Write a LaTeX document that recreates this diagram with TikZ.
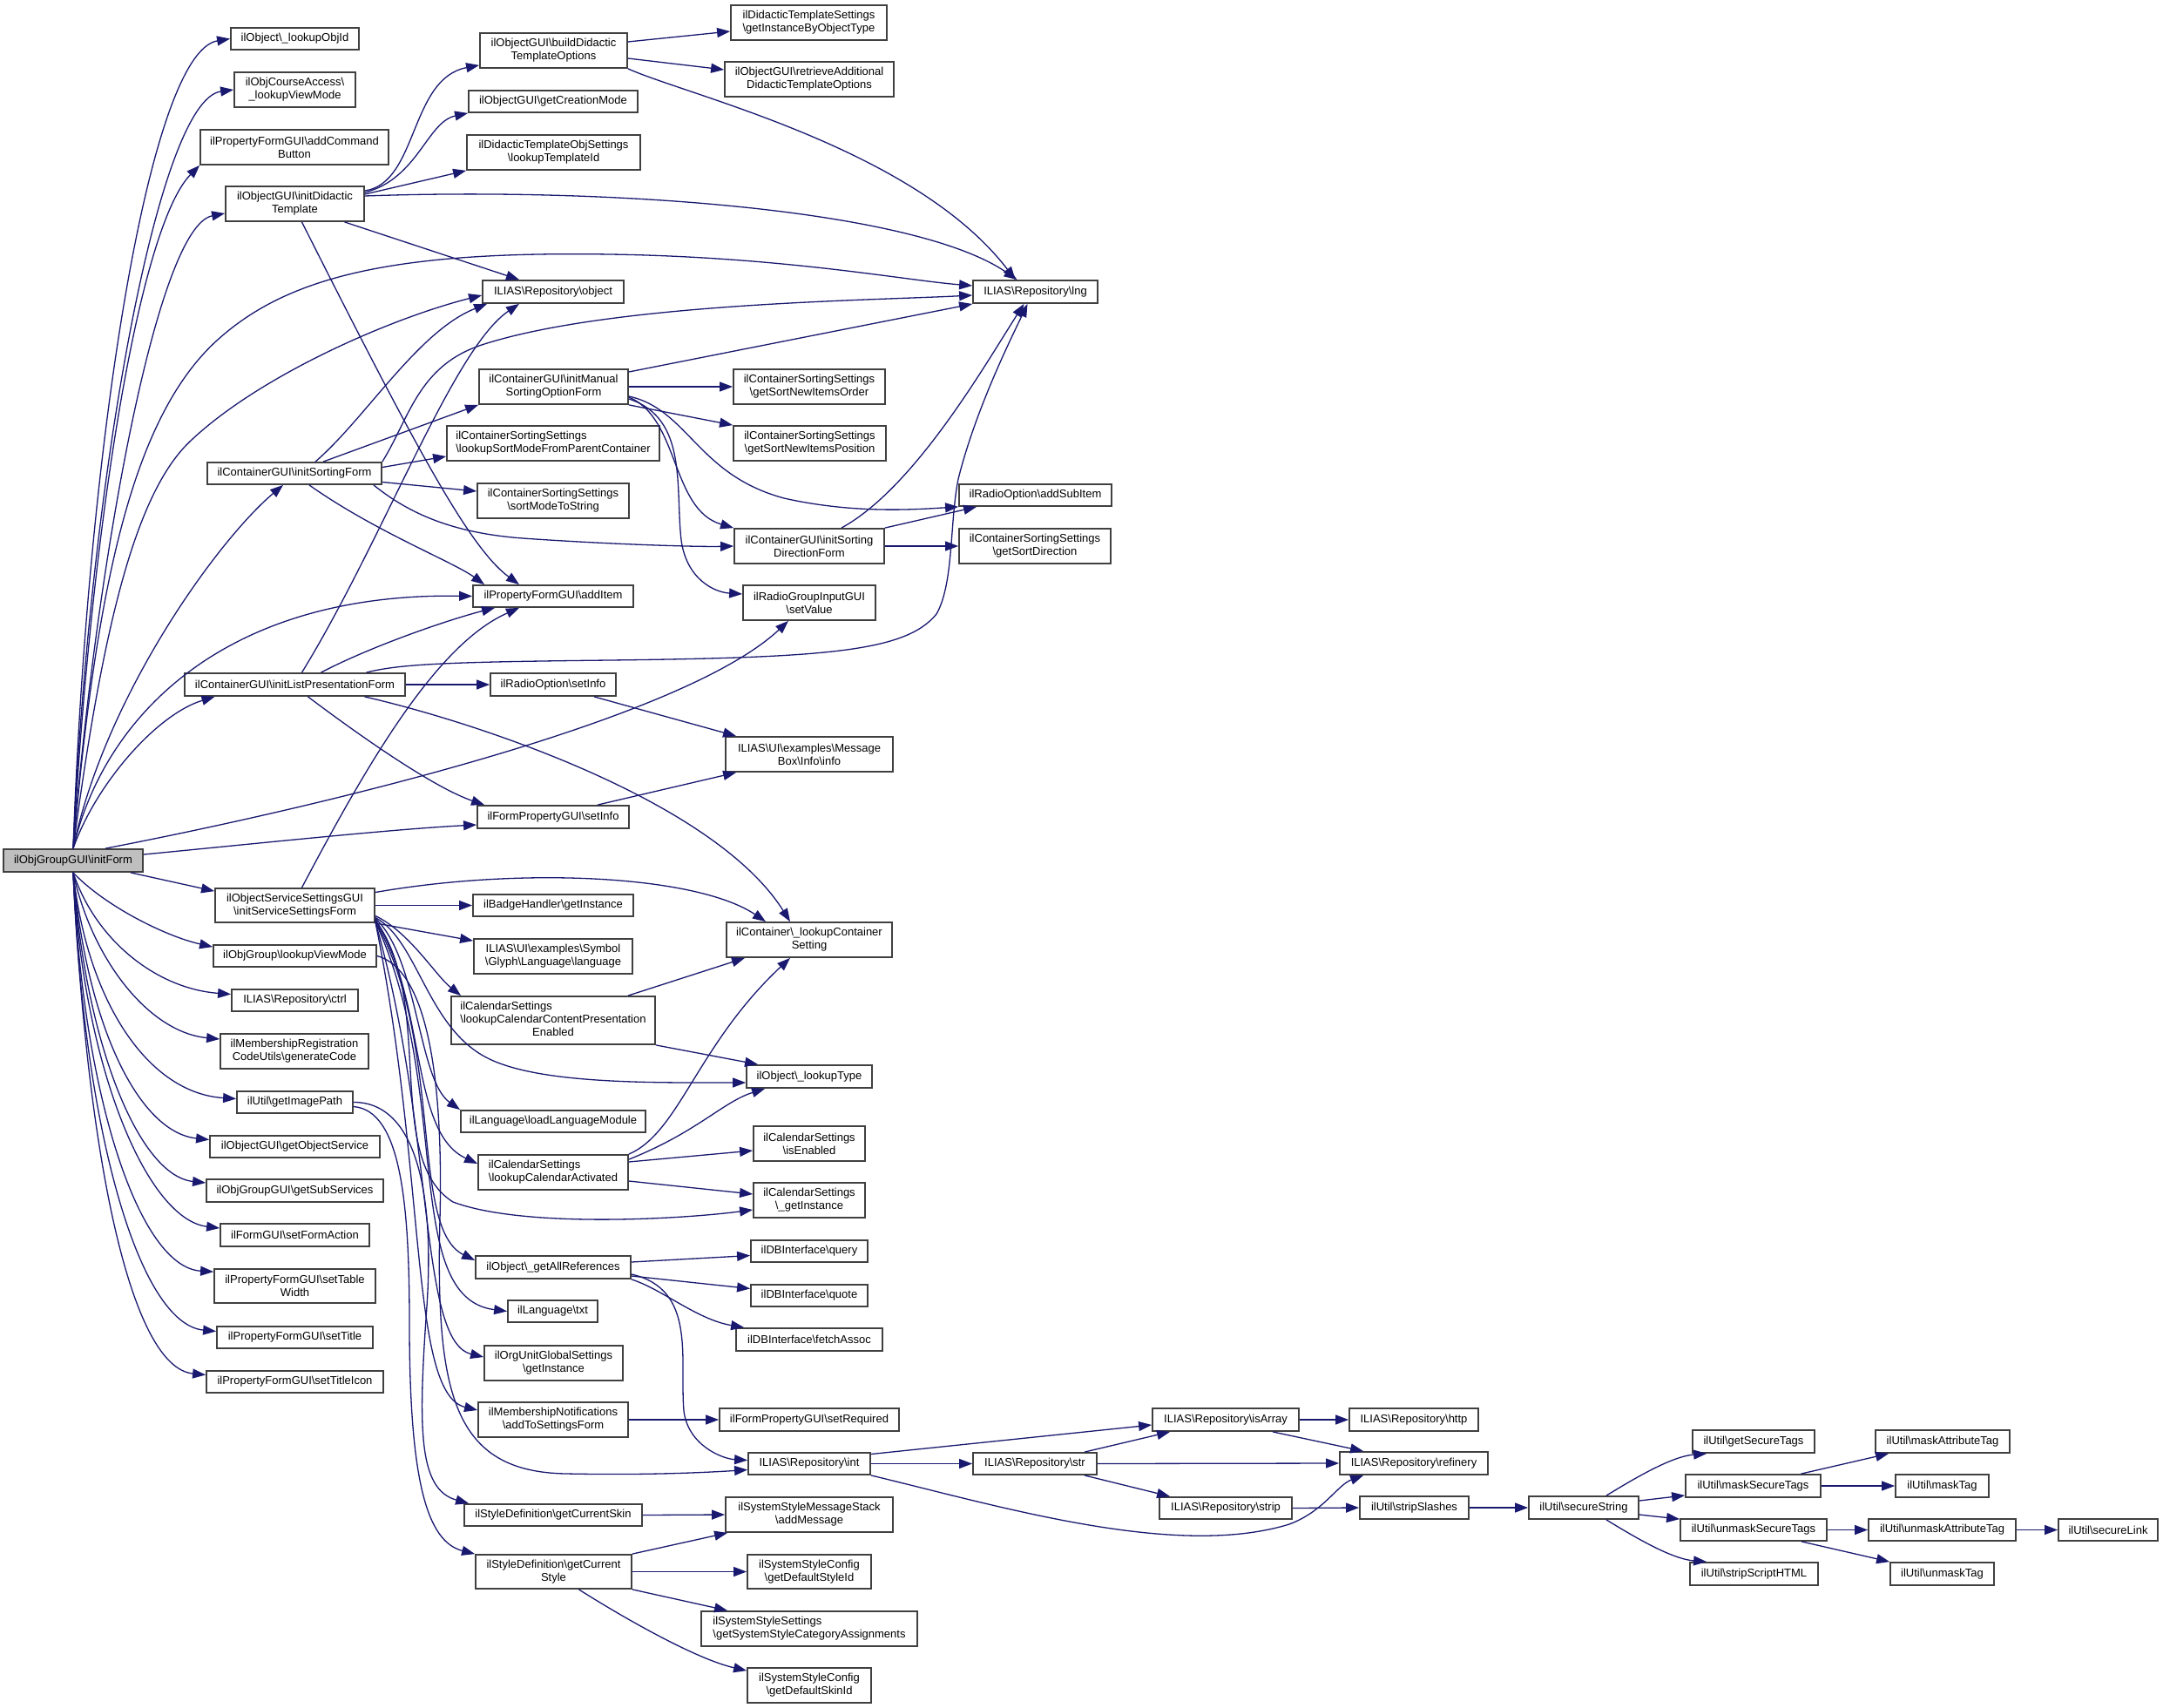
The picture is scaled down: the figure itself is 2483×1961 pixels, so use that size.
\documentclass[tikz,border=0pt]{standalone}
\usepackage{fontspec}
\setmainfont{Liberation Sans}
\usetikzlibrary{arrows.meta}
\definecolor{edgecol}{RGB}{25,25,112}
\definecolor{bordercol}{RGB}{64,64,64}
\newcommand\BS{\textbackslash}
\newcommand\bx[7][]{\node[box,minimum width={#5-#3},minimum height={#6-#4},#1] (#2) at ({(#3+#5)/2},{(#4+#6)/2}) {#7};}
\begin{document}
\begin{tikzpicture}[x=1pt,y=-1pt,
  box/.style={draw=bordercol,line width=1.8pt,fill=white,inner sep=0pt,align=center,font=\fontsize{13}{15}\selectfont},
  e/.style={draw=edgecol,line width=1.3pt,-{Triangle[length=15pt,width=11pt]}}]
\fill[white] (0,0) rectangle (2483,1961);
\useasboundingbox (0,0) rectangle (2483,1961);
% ---------- nodes ----------
\bx[fill=black!25]{initForm}{4}{975}{164}{1001}{ilObjGroupGUI\BS initForm}
\bx{lookupObjId}{265}{32}{412}{57}{ilObject\BS\_lookupObjId}
\bx{crsLVM}{269}{83}{408}{123}{ilObjCourseAccess\BS\\\_lookupViewMode}
\bx{addCB}{230}{149}{446}{189}{ilPropertyFormGUI\BS addCommand\\Button}
\bx{initDid}{259}{214}{418}{254}{ilObjectGUI\BS initDidactic\\Template}
\bx{initSort}{238}{531}{438}{556}{ilContainerGUI\BS initSortingForm}
\bx{initList}{212}{773}{465}{799}{ilContainerGUI\BS initListPresentationForm}
\bx{iSS}{247}{1020}{430}{1059}{ilObjectServiceSettingsGUI\\\BS initServiceSettingsForm}
\bx{grpLVM}{245}{1085}{432}{1110}{ilObjGroup\BS lookupViewMode}
\bx{ctrl}{266}{1136}{411}{1161}{ILIAS\BS Repository\BS ctrl}
\bx{genCode}{253}{1187}{423}{1227}{ilMembershipRegistration\\CodeUtils\BS generateCode}
\bx{gIP}{272}{1253}{405}{1278}{ilUtil\BS getImagePath}
\bx{gOS}{241}{1304}{436}{1329}{ilObjectGUI\BS getObjectService}
\bx{gSS}{237}{1354}{440}{1380}{ilObjGroupGUI\BS getSubServices}
\bx{sFA}{253}{1405}{424}{1431}{ilFormGUI\BS setFormAction}
\bx{sTW}{246}{1457}{431}{1496}{ilPropertyFormGUI\BS setTable\\Width}
\bx{sT}{249}{1523}{428}{1548}{ilPropertyFormGUI\BS setTitle}
\bx{sTI}{237}{1574}{440}{1599}{ilPropertyFormGUI\BS setTitleIcon}
% column 2
\bx{build}{551}{38}{720}{78}{ilObjectGUI\BS buildDidactic\\TemplateOptions}
\bx{gCM}{538}{104}{732}{129}{ilObjectGUI\BS getCreationMode}
\bx{lTI}{536}{155}{735}{195}{ilDidacticTemplateObjSettings\\\BS lookupTemplateId}
\bx{object}{554}{322}{716}{348}{ILIAS\BS Repository\BS object}
\bx{initMan}{550}{424}{721}{464}{ilContainerGUI\BS initManual\\SortingOptionForm}
\bx[align=left]{lSMFPC}{513}{489}{757}{529}{ilContainerSortingSettings\\\BS lookupSortModeFromParentContainer}
\bx{sMTS}{548}{555}{722}{595}{ilContainerSortingSettings\\\BS sortModeToString}
\bx{addItem}{543}{672}{727}{697}{ilPropertyFormGUI\BS addItem}
\bx{rSetInfo}{563}{773}{707}{799}{ilRadioOption\BS setInfo}
\bx{fpSetInfo}{548}{925}{722}{951}{ilFormPropertyGUI\BS setInfo}
\bx{badge}{543}{1027}{727}{1052}{ilBadgeHandler\BS getInstance}
\bx{language}{544}{1078}{726}{1118}{ILIAS\BS UI\BS examples\BS Symbol\\\BS Glyph\BS Language\BS language}
\bx{lCCPE}{518}{1144}{752}{1199}{\begin{tabular}{@{}c@{}}\multicolumn{1}{@{}l@{}}{ilCalendarSettings}\\\BS lookupCalendarContentPresentation\\Enabled\end{tabular}}
\bx{loadLM}{529}{1275}{741}{1300}{ilLanguage\BS loadLanguageModule}
\bx[align=left]{lCA}{549}{1326}{721}{1366}{ilCalendarSettings\\\BS lookupCalendarActivated}
\bx{gAR}{546}{1442}{724}{1468}{ilObject\BS\_getAllReferences}
\bx{txt}{583}{1493}{686}{1518}{ilLanguage\BS txt}
\bx{orgU}{556}{1545}{715}{1585}{ilOrgUnitGlobalSettings\\\BS getInstance}
\bx{addTSF}{549}{1610}{721}{1650}{ilMembershipNotifications\\\BS addToSettingsForm}
\bx{gCSkin}{533}{1727}{737}{1752}{ilStyleDefinition\BS getCurrentSkin}
\bx{gCStyle}{546}{1785}{725}{1824}{ilStyleDefinition\BS getCurrent\\Style}
% column 3
\bx{gIBOT}{839}{6}{1018}{46}{ilDidacticTemplateSettings\\\BS getInstanceByObjectType}
\bx{retr}{832}{71}{1026}{111}{ilObjectGUI\BS retrieveAdditional\\DidacticTemplateOptions}
\bx{gSNIO}{842}{424}{1016}{464}{ilContainerSortingSettings\\\BS getSortNewItemsOrder}
\bx{gSNIP}{842}{489}{1017}{529}{ilContainerSortingSettings\\\BS getSortNewItemsPosition}
\bx{isdf}{843}{607}{1015}{647}{ilContainerGUI\BS initSorting\\DirectionForm}
\bx{setValue}{853}{672}{1005}{712}{ilRadioGroupInputGUI\\\BS setValue}
\bx{mbInfo}{833}{846}{1025}{886}{ILIAS\BS UI\BS examples\BS Message\\Box\BS Info\BS info}
\bx{lCS}{834}{1059}{1024}{1099}{ilContainer\BS\_lookupContainer\\Setting}
\bx{lType}{857}{1223}{1001}{1249}{ilObject\BS\_lookupType}
\bx{isEnabled}{865}{1293}{993}{1333}{ilCalendarSettings\\\BS isEnabled}
\bx{calGI}{865}{1358}{993}{1398}{ilCalendarSettings\\\BS\_getInstance}
\bx{query}{862}{1424}{996}{1449}{ilDBInterface\BS query}
\bx{quote}{862}{1475}{996}{1500}{ilDBInterface\BS quote}
\bx{fetch}{845}{1525}{1013}{1551}{ilDBInterface\BS fetchAssoc}
\bx{setReq}{826}{1617}{1032}{1643}{ilFormPropertyGUI\BS setRequired}
\bx{int}{859}{1668}{999}{1693}{ILIAS\BS Repository\BS int}
\bx{addMsg}{833}{1719}{1025}{1759}{ilSystemStyleMessageStack\\\BS addMessage}
\bx{gDSI}{858}{1785}{1000}{1824}{ilSystemStyleConfig\\\BS getDefaultStyleId}
\bx[align=left]{gSSCA}{805}{1850}{1053}{1890}{ilSystemStyleSettings\\\BS getSystemStyleCategoryAssignments}
\bx{gDSkI}{858}{1915}{1000}{1955}{ilSystemStyleConfig\\\BS getDefaultSkinId}
% column 4+
\bx{lng}{1117}{322}{1260}{348}{ILIAS\BS Repository\BS lng}
\bx{addSubItem}{1101}{556}{1276}{581}{ilRadioOption\BS addSubItem}
\bx{gSD}{1101}{607}{1275}{647}{ilContainerSortingSettings\\\BS getSortDirection}
\bx{str}{1117}{1668}{1259}{1693}{ILIAS\BS Repository\BS str}
\bx{isArray}{1323}{1617}{1491}{1643}{ILIAS\BS Repository\BS isArray}
\bx{strip}{1331}{1719}{1483}{1744}{ILIAS\BS Repository\BS strip}
\bx{http}{1549}{1617}{1697}{1643}{ILIAS\BS Repository\BS http}
\bx{refinery}{1538}{1667}{1708}{1693}{ILIAS\BS Repository\BS refinery}
\bx{stripSlashes}{1561}{1718}{1686}{1744}{ilUtil\BS stripSlashes}
\bx{secureString}{1755}{1718}{1881}{1744}{ilUtil\BS secureString}
\bx{getSecureTags}{1943}{1642}{2083}{1668}{ilUtil\BS getSecureTags}
\bx{maskST}{1935}{1693}{2090}{1719}{ilUtil\BS maskSecureTags}
\bx{unmaskST}{1929}{1744}{2097}{1769}{ilUtil\BS unmaskSecureTags}
\bx{stripScript}{1940}{1794}{2087}{1820}{ilUtil\BS stripScriptHTML}
\bx{maskAT}{2153}{1642}{2307}{1668}{ilUtil\BS maskAttributeTag}
\bx{maskTag}{2176}{1693}{2283}{1719}{ilUtil\BS maskTag}
\bx{unmaskAT}{2145}{1744}{2314}{1769}{ilUtil\BS unmaskAttributeTag}
\bx{unmaskTag}{2170}{1794}{2289}{1820}{ilUtil\BS unmaskTag}
\bx{secureLink}{2363}{1744}{2477}{1769}{ilUtil\BS secureLink}
% ---------- edges from initForm ----------
\draw[e] (initForm.north) .. controls (100,520) and (170,60) .. (lookupObjId.west);
\draw[e] (initForm.north) .. controls (102,560) and (180,115) .. (crsLVM.west);
\draw[e] (initForm.north) .. controls (105,600) and (160,260) .. (addCB.south west);
\draw[e] (initForm.north) .. controls (110,650) and (180,260) .. ([yshift=-11pt]initDid.west);
\draw[e] (initForm.north) .. controls (110,680) and (150,480) .. (250,390) .. controls (330,318) and (450,288) .. (700,292) .. controls (900,295) and (1040,322) .. ([yshift=7pt]lng.west);
\draw[e] (initForm.north) .. controls (120,700) and (160,560) .. (220,505) .. controls (300,430) and (450,365) .. ([yshift=-4pt]object.west);
\draw[e] (initForm.north) .. controls (120,800) and (250,620) .. ([xshift=-13pt]initSort.south);
\draw[e] (initForm.north) .. controls (120,820) and (260,680) .. (addItem.west);
\draw[e] (initForm.north) .. controls (110,900) and (180,820) .. ([xshift=-92pt]initList.south);
\draw[e] ([xshift=37pt]initForm.north) .. controls (350,930) and (780,830) .. ([xshift=-24pt]setValue.south);
\draw[e] ([yshift=7pt]initForm.east) .. controls (300,968) and (450,952) .. ([yshift=-9pt]fpSetInfo.west);
\draw[e] ([xshift=66pt]initForm.south) -- ([yshift=-4pt]iSS.north west);
\draw[e] (initForm.south) .. controls (120,1040) and (190,1075) .. ([yshift=-3pt]grpLVM.north west);
\draw[e] (initForm.south) .. controls (110,1080) and (180,1135) .. ([yshift=7pt]ctrl.west);
\draw[e] (initForm.south) .. controls (105,1100) and (170,1185) .. ([yshift=14pt]genCode.west);
\draw[e] (initForm.south) .. controls (100,1150) and (170,1255) .. ([yshift=4pt]gIP.west);
\draw[e] (initForm.south) .. controls (100,1180) and (160,1300) .. ([yshift=8pt]gOS.west);
\draw[e] (initForm.south) .. controls (98,1200) and (160,1350) .. ([yshift=9pt]gSS.west);
\draw[e] (initForm.south) .. controls (96,1230) and (170,1400) .. ([yshift=8pt]sFA.west);
\draw[e] (initForm.south) .. controls (95,1260) and (160,1455) .. ([yshift=-4pt]sTW.north west);
\draw[e] (initForm.south) .. controls (96,1300) and (160,1520) .. ([yshift=7pt]sT.west);
\draw[e] (initForm.south) .. controls (100,1330) and (150,1570) .. ([yshift=8pt]sTI.west);
% ---------- initDidacticTemplate ----------
\draw[e] ([yshift=15pt]initDid.east) .. controls (480,210) and (470,90) .. ([yshift=4pt]build.south west);
\draw[e] ([yshift=13pt]initDid.east) .. controls (480,205) and (490,140) .. (gCM.south west);
\draw[e] ([yshift=11pt]initDid.east) -- (lTI.south west);
\draw[e] ([yshift=9pt]initDid.east) .. controls (700,215) and (1050,240) .. ([xshift=-21pt]lng.north);
\draw[e] ([xshift=57pt]initDid.south) -- ([xshift=-39pt]object.north);
\draw[e] ([xshift=8pt]initDid.south) .. controls (480,520) and (540,630) .. ([xshift=-39pt]addItem.north);
% ---------- buildDidacticTemplateOptions ----------
\draw[e] ([yshift=10pt]build.east) -- ([yshift=-10pt]gIBOT.west);
\draw[e] ([yshift=-9pt]build.east) -- ([yshift=11pt]retr.west);
\draw[e] (build.south east) .. controls (790,110) and (1050,170) .. ([xshift=-23pt]lng.north);
% ---------- initSortingForm ----------
\draw[e] ([xshift=24pt]initSort.north) .. controls (420,480) and (480,380) .. ([xshift=6pt]object.south west);
\draw[e] ([xshift=33pt]initSort.north) -- (initMan.south west);
\draw[e] (initSort.north east) .. controls (470,480) and (480,420) .. (553,396) .. controls (700,348) and (1000,345) .. ([yshift=-4pt]lng.west);
\draw[e] ([yshift=7pt]initSort.east) -- ([yshift=-15pt]lSMFPC.west);
\draw[e] ([yshift=-10pt]initSort.east) -- ([yshift=11pt]sMTS.west);
\draw[e] ([xshift=-10pt]initSort.south east) .. controls (470,590) and (520,612) .. (600,618) .. controls (700,625) and (800,628) .. (isdf.west);
\draw[e] ([xshift=17pt]initSort.south) .. controls (430,610) and (520,645) .. ([xshift=14pt]addItem.north west);
% ---------- initManualSortingOptionForm ----------
\draw[e] ([yshift=17pt]initMan.east) -- ([yshift=-14pt]lng.west);
\draw[e] (initMan.east) -- (gSNIO.west);
\draw[e] (initMan.south east) -- (gSNIP.north west);
\draw[e] ([yshift=-11pt]initMan.east) .. controls (790,470) and (800,545) .. (900,572) .. controls (980,590) and (1050,585) .. (addSubItem.south west);
\draw[e] ([yshift=-12pt]initMan.east) .. controls (780,480) and (770,585) .. (isdf.north west);
\draw[e] ([yshift=-14pt]initMan.east) .. controls (790,480) and (775,560) .. (782,620) .. controls (788,665) and (820,680) .. ([yshift=10pt]setValue.west);
% ---------- initSortingDirectionForm ----------
\draw[e] ([xshift=37pt]isdf.north) .. controls (1050,560) and (1130,420) .. ([xshift=-13pt]lng.south);
\draw[e] (isdf.north east) -- ([xshift=21pt]addSubItem.south west);
\draw[e] (isdf.east) -- (gSD.west);
% ---------- initListPresentationForm ----------
\draw[e] ([xshift=8pt]initList.north) .. controls (440,620) and (520,400) .. ([xshift=-39pt]object.south);
\draw[e] ([xshift=30pt]initList.north) .. controls (430,740) and (520,710) .. ([xshift=-67pt]addItem.south);
\draw[e] (initList.east) -- (rSetInfo.west);
\draw[e] ([xshift=80pt]initList.south) .. controls (550,830) and (820,920) .. ([xshift=-22pt]lCS.north);
\draw[e] ([xshift=15pt]initList.south) .. controls (420,850) and (500,905) .. ([xshift=9pt]fpSetInfo.north west);
\draw[e] ([xshift=82pt]initList.north) .. controls (460,762) and (520,760) .. (700,758) .. controls (950,755) and (1040,748) .. (1075,705) .. controls (1095,670) and (1090,600) .. (1100,550) .. controls (1120,470) and (1160,390) .. ([xshift=-9pt]lng.south);
\draw[e] ([xshift=47pt]rSetInfo.south) -- ([xshift=13pt]mbInfo.north west);
\draw[e] ([xshift=51pt]fpSetInfo.north) -- ([xshift=13pt]mbInfo.south west);
% ---------- initServiceSettingsForm ----------
\draw[e] ([xshift=8pt]iSS.north) .. controls (420,880) and (500,740) .. ([xshift=-39pt]addItem.south);
\draw[e] ([yshift=15pt]iSS.east) .. controls (600,995) and (800,1005) .. ([xshift=-50pt]lCS.north);
\draw[e] (iSS.east) -- (badge.west);
\draw[e] (iSS.south east) -- ([yshift=-3pt]language.north west);
\draw[e] ([yshift=-12pt]iSS.east) .. controls (470,1070) and (500,1120) .. ([xshift=12pt]lCCPE.north west);
\draw[e] ([yshift=-14pt]iSS.east) .. controls (480,1080) and (490,1180) .. (560,1215) .. controls (620,1245) and (750,1243) .. ([yshift=-7pt]lType.west);
\draw[e] ([yshift=-15pt]iSS.east) .. controls (480,1100) and (480,1240) .. (loadLM.north west);
\draw[e] ([yshift=-16pt]iSS.east) .. controls (490,1150) and (470,1300) .. ([yshift=10pt]lCA.west);
\draw[e] ([yshift=-17pt]iSS.east) .. controls (500,1150) and (440,1330) .. (520,1380) .. controls (600,1410) and (780,1400) .. ([yshift=-11pt]calGI.west);
\draw[e] ([yshift=-18pt]iSS.east) .. controls (510,1200) and (470,1410) .. ([yshift=8pt]gAR.west);
\draw[e] ([yshift=-19pt]iSS.east) .. controls (520,1250) and (460,1490) .. (txt.west);
\draw[e] ([yshift=-19pt]iSS.east) .. controls (500,1300) and (480,1540) .. ([yshift=7pt]orgU.west);
\draw[e] ([yshift=-19pt]iSS.east) .. controls (490,1350) and (470,1600) .. ([yshift=11pt]addTSF.west);
% ---------- getImagePath / lookupViewMode ----------
\draw[e] (gIP.east) .. controls (470,1265) and (500,1350) .. (490,1500) .. controls (480,1640) and (480,1710) .. ([xshift=6pt]gCSkin.north west);
\draw[e] ([yshift=-5pt]gIP.east) .. controls (460,1275) and (470,1380) .. (470,1520) .. controls (470,1700) and (490,1770) .. (gCStyle.north west);
\draw[e] (grpLVM.east) .. controls (480,1110) and (510,1200) .. (505,1400) .. controls (500,1600) and (520,1690) .. (650,1692) .. controls (750,1694) and (820,1690) .. ([yshift=-7pt]int.west);
% ---------- calendar ----------
\draw[e] ([xshift=86pt]lCCPE.north) -- ([xshift=-74pt]lCS.south);
\draw[e] (lCCPE.south east) -- ([xshift=14pt]lType.north west);
\draw[e] (lCA.north east) .. controls (780,1300) and (800,1200) .. ([xshift=-22pt]lCS.south);
\draw[e] ([yshift=-6pt]lCA.north east) .. controls (800,1300) and (830,1265) .. ([xshift=22pt]lType.south west);
\draw[e] ([yshift=12pt]lCA.east) -- ([yshift=-8pt]isEnabled.west);
\draw[e] ([yshift=-10pt]lCA.east) -- ([yshift=7pt]calGI.west);
% ---------- getAllReferences ----------
\draw[e] ([yshift=6pt]gAR.east) -- ([yshift=-5pt]query.west);
\draw[e] ([yshift=-10pt]gAR.east) -- ([yshift=8pt]quote.west);
\draw[e] (gAR.south east) .. controls (760,1480) and (800,1515) .. ([xshift=10pt]fetch.north west);
\draw[e] ([yshift=-8pt]gAR.east) .. controls (800,1480) and (780,1560) .. (785,1620) .. controls (790,1660) and (830,1675) .. ([yshift=4pt]int.west);
\draw[e] (addTSF.east) -- (setReq.west);
% ---------- repository / util chain ----------
\draw[e] ([yshift=11pt]int.east) -- ([yshift=-6pt]isArray.west);
\draw[e] (int.east) -- (str.west);
\draw[e] (int.south east) .. controls (1150,1730) and (1350,1790) .. (1480,1750) .. controls (1520,1735) and (1535,1705) .. ([xshift=28pt]refinery.south west);
\draw[e] (isArray.east) -- (http.west);
\draw[e] ([xshift=54pt]isArray.south) -- ([xshift=28pt]refinery.north west);
\draw[e] ([xshift=57pt]str.north) -- ([xshift=21pt]isArray.south west);
\draw[e] (str.east) -- (refinery.west);
\draw[e] ([xshift=57pt]str.south) -- ([xshift=13pt]strip.north west);
\draw[e] (strip.east) -- (stripSlashes.west);
\draw[e] (stripSlashes.east) -- (secureString.west);
\draw[e] ([xshift=26pt]secureString.north) .. controls (1880,1695) and (1920,1672) .. ([xshift=17pt]getSecureTags.south west);
\draw[e] ([yshift=8pt]secureString.east) -- ([yshift=3pt]maskST.south west);
\draw[e] ([yshift=-8pt]secureString.east) -- ([yshift=-1pt]unmaskST.north west);
\draw[e] ([xshift=26pt]secureString.south) .. controls (1880,1767) and (1920,1790) .. ([xshift=20pt]stripScript.north west);
\draw[e] ([xshift=55pt]maskST.north) -- ([xshift=16pt]maskAT.south west);
\draw[e] (maskST.east) -- (maskTag.west);
\draw[e] (unmaskST.east) -- (unmaskAT.west);
\draw[e] ([xshift=55pt]unmaskST.south) -- (unmaskTag.north west);
\draw[e] (unmaskAT.east) -- (secureLink.west);
% ---------- style definition ----------
\draw[e] (gCSkin.east) -- (addMsg.west);
\draw[e] (gCStyle.north east) -- ([xshift=3pt]addMsg.south west);
\draw[e] (gCStyle.east) -- (gDSI.west);
\draw[e] (gCStyle.south east) -- ([xshift=31pt]gSSCA.north west);
\draw[e] ([xshift=29pt]gCStyle.south) .. controls (720,1860) and (800,1905) .. ([yshift=-4pt]gDSkI.north west);
\end{tikzpicture}
\end{document}
